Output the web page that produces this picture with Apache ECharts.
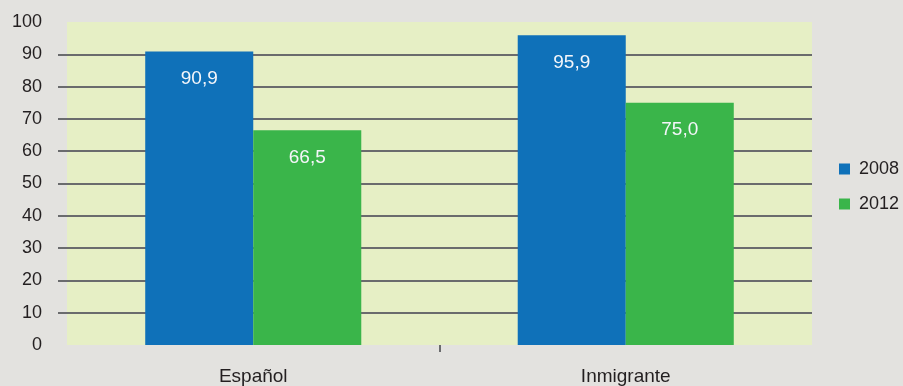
<!DOCTYPE html>
<html>
<head>
<meta charset="utf-8">
<script src="https://cdn.jsdelivr.net/npm/echarts@6/dist/echarts.min.js"></script>
<style>
  html, body { margin: 0; padding: 0; background: #e3e2df; }
  #chart { width: 903px; height: 386px; }
</style>
</head>
<body>
<div id="chart"></div>
<script>
const categories = ['Español', 'Inmigrante'];
const seriesNames = ['2008', '2012'];
const values2008 = [90.9, 95.9];
const values2012 = [66.5, 75.0];
const yTicks = [10, 20, 30, 40, 50, 60, 70, 80, 90];

const colors = ['#0f71b9', '#3ab54a'];
const gridColor = '#6a6b6d';
const font = '"Liberation Sans", Arial, sans-serif';

const chart = echarts.init(document.getElementById('chart'));

const barLabel = {
    show: true,
    position: 'insideTop',
    distance: 18,
    color: '#f4f6fa',
    fontSize: 19,
    fontFamily: font,
    formatter: p => p.value.toFixed(1).replace('.', ',')
};

chart.setOption({
    backgroundColor: '#e3e2df',
    color: colors,
    textStyle: { fontFamily: font },
    grid: {
        left: 67,
        right: 91,
        top: 22,
        bottom: 40,
        show: true,
        backgroundColor: '#e6efc5',
        borderWidth: 0
    },
    legend: {
        orient: 'vertical',
        left: 834,
        top: 155,
        itemWidth: 11,
        itemHeight: 11,
        itemGap: 17,
        icon: 'rect',
        textStyle: { fontSize: 18, color: '#231f20', fontFamily: font, padding: [0, 0, 0, 4] },
        data: seriesNames
    },
    xAxis: [
        {
            type: 'category',
            data: categories,
            axisLine: { show: false },
            axisTick: { show: false },
            axisLabel: { fontSize: 19, color: '#231f20', margin: 22, fontFamily: font }
        },
        {
            // only carries the single divider tick between the two groups
            type: 'value',
            position: 'bottom',
            min: 0,
            max: 2,
            axisLine: { show: false },
            axisLabel: { show: false },
            splitLine: { show: false },
            axisTick: {
                show: true,
                length: 7,
                customValues: [1],
                lineStyle: { color: gridColor, width: 2 }
            }
        }
    ],
    yAxis: {
        type: 'value',
        min: 0,
        max: 100,
        interval: 10,
        axisLine: { show: false },
        axisTick: {
            show: true,
            length: 9,
            customValues: yTicks,
            lineStyle: { color: gridColor, width: 2 }
        },
        splitLine: {
            show: true,
            lineStyle: { color: gridColor, width: 2 }
        },
        axisLabel: { fontSize: 18, color: '#231f20', margin: 25, fontFamily: font }
    },
    series: [
        {
            name: seriesNames[0],
            type: 'bar',
            data: values2008,
            barGap: '0%',
            barCategoryGap: '42%',
            label: barLabel
        },
        {
            name: seriesNames[1],
            type: 'bar',
            data: values2012,
            label: barLabel
        }
    ]
});
</script>
</body>
</html>
